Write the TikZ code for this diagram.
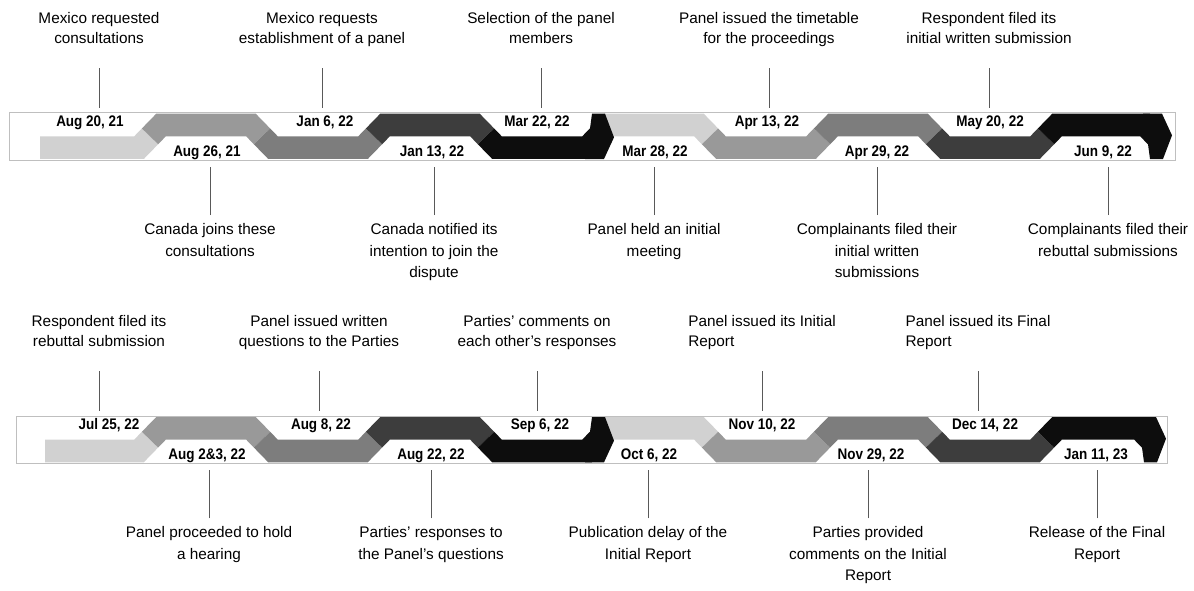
\documentclass[tikz,border=0pt]{standalone}
\usepackage{fontspec}
\setmainfont{Liberation Sans}
\newfontfamily\datefont[FakeStretch=0.88]{Liberation Sans}
\usepackage{xcolor}
\usepackage{tikz}
\usetikzlibrary{positioning}

\definecolor{shadeA}{gray}{0.82}
\definecolor{shadeB}{gray}{0.60}
\definecolor{shadeC}{gray}{0.49}
\definecolor{shadeD}{gray}{0.24}
\definecolor{shadeE}{gray}{0.05}

\tikzset{
x=0.75pt, y=-0.75pt, % one unit is one pixel, y runs down the page
band/.style={draw=gray!50, line width=0.75pt}, % frame round each row
ribbon/.style={line width=17pt, line join=miter, line cap=butt}, % one colour of the zigzag
ribbontip/.style={fill=shadeE}, % point at the end of each zigzag
date/.style={font=\datefont\bfseries\fontsize{11.5}{13}\selectfont, anchor=base, inner sep=0pt},
eventup/.style={font=\fontsize{11.5}{15}\selectfont, align=center, inner sep=0pt, outer ysep=14pt,
  execute at begin node=\strut, execute at end node=\strut, above=30pt of #1},
eventdown/.style={font=\fontsize{11.5}{16.1}\selectfont, align=center, inner sep=0pt, outer ysep=6.4pt,
  execute at begin node=\strut, execute at end node=\strut, below=36pt of #1},
leader/.style={draw=black!65, line width=0.75pt}, % thin line from text to band
}

% the two zigzag arrows of one row: #1 start of the first arrow, #2 last bend
\newcommand{\zigzag}[2]{%
  \draw[ribbon, shadeA] (#1,147.65) -- (139,147.65) -- (150,136.35);
  \draw[ribbon, shadeB] (150,136.35) -- (161,125.05) -- (251,125.05) -- (262,136.35);
  \draw[ribbon, shadeC] (262,136.35) -- (273,147.65) -- (363,147.65) -- (374,136.35);
  \draw[ribbon, shadeD] (374,136.35) -- (385,125.05) -- (475,125.05) -- (486,136.35);
  \draw[ribbon, shadeE] (486,136.35) -- (497,147.65) -- (587,147.65) -- (598,136.35);
  \draw[ribbon, shadeA] (598,136.35) -- (609,125.05) -- (699,125.05) -- (710,136.35);
  \draw[ribbon, shadeB] (710,136.35) -- (721,147.65) -- (811,147.65) -- (822,136.35);
  \draw[ribbon, shadeC] (822,136.35) -- (833,125.05) -- (923,125.05) -- (934,136.35);
  \draw[ribbon, shadeD] (934,136.35) -- (945,147.65) -- (1035,147.65) -- (1046,136.35);
  \draw[ribbon, shadeE] (1046,136.35) -- (1057,125.05) -- ({#2-11},125.05) -- (#2,136.35);
  \fill[ribbontip] (585,159) -- (604,159) -- (614,137.35) -- (605,113.7) -- (592,113.7) -- (590,128.45) -- cycle;
  \fill[ribbontip] ({#2-13},113.7) -- ({#2+6},113.7) -- ({#2+16},135.35) -- ({#2+7},159) -- ({#2-6},159) -- ({#2-8},144.25) -- cycle;
}

\begin{document}
\begin{tikzpicture}
\useasboundingbox (0,0) rectangle (1194,590);

% first row
\draw[band] (9,112.7) rectangle (1175,160);
\zigzag{40}{1156}

\coordinate (p1) at (99,108);
\coordinate (p2) at (210,167);
\coordinate (p3) at (322,108);
\coordinate (p4) at (434,167);
\coordinate (p5) at (541,108);
\coordinate (p6) at (654,167);
\coordinate (p7) at (769,108);
\coordinate (p8) at (877,167);
\coordinate (p9) at (989,108);
\coordinate (p10) at (1108,167);

\node[date] (d1) at (90,126) {Aug 20, 21};
\node[date] (d2) at (207,156) {Aug 26, 21};
\node[date] (d3) at (325,126) {Jan 6, 22};
\node[date] (d4) at (432,156) {Jan 13, 22};
\node[date] (d5) at (537,126) {Mar 22, 22};
\node[date] (d6) at (655,156) {Mar 28, 22};
\node[date] (d7) at (767,126) {Apr 13, 22};
\node[date] (d8) at (877,156) {Apr 29, 22};
\node[date] (d9) at (990,126) {May 20, 22};
\node[date] (d10) at (1103,156) {Jun 9, 22};

\node[eventup=p1] (e1) {Mexico requested\\consultations};
\node[eventdown=p2] (e2) {Canada joins these\\consultations};
\node[eventup=p3] (e3) {Mexico requests\\establishment of a panel};
\node[eventdown=p4] (e4) {Canada notified its\\intention to join the\\dispute};
\node[eventup=p5] (e5) {Selection of the panel\\members};
\node[eventdown=p6] (e6) {Panel held an initial\\meeting};
\node[eventup=p7] (e7) {Panel issued the timetable\\for the proceedings};
\node[eventdown=p8] (e8) {Complainants filed their\\initial written\\submissions};
\node[eventup=p9] (e9) {Respondent filed its\\initial written submission};
\node[eventdown=p10] (e10) {Complainants filed their\\rebuttal submissions};

\draw[leader] (e1) -- (p1);
\draw[leader] (e2) -- (p2);
\draw[leader] (e3) -- (p3);
\draw[leader] (e4) -- (p4);
\draw[leader] (e5) -- (p5);
\draw[leader] (e6) -- (p6);
\draw[leader] (e7) -- (p7);
\draw[leader] (e8) -- (p8);
\draw[leader] (e9) -- (p9);
\draw[leader] (e10) -- (p10);

% second row
\begin{scope}[shift={(0,303.3)}]
\draw[band] (16,112.7) rectangle (1167,160);
\zigzag{45}{1150}

\coordinate (p11) at (99,108);
\coordinate (p12) at (209,167);
\coordinate (p13) at (319,108);
\coordinate (p14) at (431,167);
\coordinate (p15) at (537,108);
\coordinate (p16) at (648,167);
\coordinate (p17) at (762,108);
\coordinate (p18) at (868,167);
\coordinate (p19) at (978,108);
\coordinate (p20) at (1097,167);

\node[date] (d11) at (109,126) {Jul 25, 22};
\node[date] (d12) at (207,156) {Aug 2\&3, 22};
\node[date] (d13) at (321,126) {Aug 8, 22};
\node[date] (d14) at (431,156) {Aug 22, 22};
\node[date] (d15) at (540,126) {Sep 6, 22};
\node[date] (d16) at (649,156) {Oct 6, 22};
\node[date] (d17) at (762,126) {Nov 10, 22};
\node[date] (d18) at (871,156) {Nov 29, 22};
\node[date] (d19) at (985,126) {Dec 14, 22};
\node[date] (d20) at (1096,156) {Jan 11, 23};

\node[eventup=p11] (e11) {Respondent filed its\\rebuttal submission};
\node[eventdown=p12] (e12) {Panel proceeded to hold\\a hearing};
\node[eventup=p13] (e13) {Panel issued written\\questions to the Parties};
\node[eventdown=p14] (e14) {Parties’ responses to\\the Panel’s questions};
\node[eventup=p15] (e15) {Parties’ comments on\\each other’s responses};
\node[eventdown=p16] (e16) {Publication delay of the\\Initial Report};
\node[eventup=p17, align=left] (e17) {Panel issued its Initial\\Report};
\node[eventdown=p18] (e18) {Parties provided\\comments on the Initial\\Report};
\node[eventup=p19, align=left] (e19) {Panel issued its Final\\Report};
\node[eventdown=p20] (e20) {Release of the Final\\Report};

\draw[leader] (e11) -- (p11);
\draw[leader] (e12) -- (p12);
\draw[leader] (e13) -- (p13);
\draw[leader] (e14) -- (p14);
\draw[leader] (e15) -- (p15);
\draw[leader] (e16) -- (p16);
\draw[leader] (e17) -- (p17);
\draw[leader] (e18) -- (p18);
\draw[leader] (e19) -- (p19);
\draw[leader] (e20) -- (p20);
\end{scope}
\end{tikzpicture}
\end{document}
